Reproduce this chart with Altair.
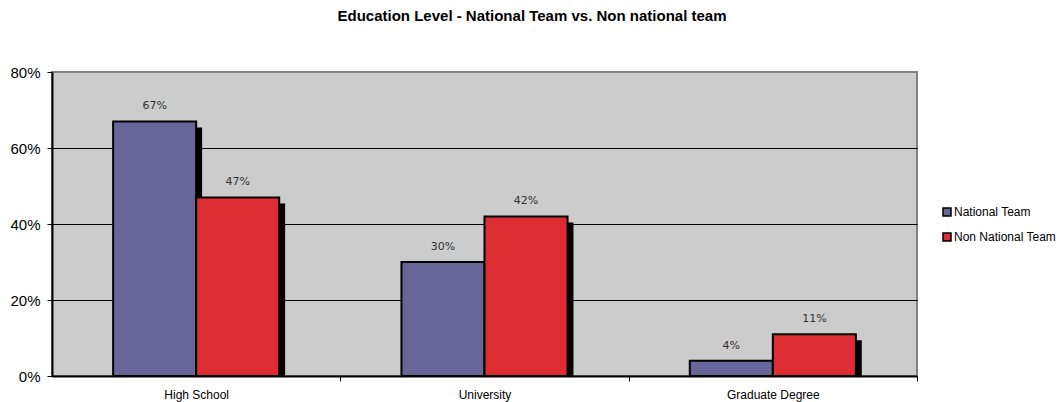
import altair as alt
import pandas as pd

categories = ["High School", "University", "Graduate Degree"]
series = ["National Team", "Non National Team"]
national = [67, 30, 4]
non_national = [47, 42, 11]
colors = ["#666699", "#DD2D32"]
title_text = "Education Level - National Team vs. Non national team"

rows = []
for c, a, b in zip(categories, national, non_national):
    rows.append({"cat": c, "series": series[0], "value": a, "label": f"{a}%"})
    rows.append({"cat": c, "series": series[1], "value": b, "label": f"{b}%"})
df = pd.DataFrame(rows)

xenc = alt.X("cat:N", sort=categories,
             scale=alt.Scale(paddingInner=0.424, paddingOuter=0.212),
             axis=alt.Axis(title=None, labelAngle=0, tickOffset=144, labelOffset=-144,
                           labelFont="Liberation Sans", labelFontSize=12,
                           labelColor="black", domainColor="black", domainWidth=2,
                           tickColor="black", tickSize=5, labelPadding=8))
xoff = alt.XOffset("series:N", sort=series,
                   scale=alt.Scale(type="band", paddingInner=0, paddingOuter=0))
xoff_shadow = alt.XOffset("series:N", sort=series,
                          scale=alt.Scale(type="band", paddingInner=0, paddingOuter=0,
                                          range=[6, 172]))
yenc = alt.Y("value:Q", scale=alt.Scale(domain=[0, 80], nice=False),
             axis=alt.Axis(title=None, values=[0, 20, 40, 60, 80],
                           labelExpr="datum.value + '%'",
                           labelFont="Liberation Sans", labelFontSize=15,
                           labelColor="black", domainColor="black", domainWidth=2,
                           tickColor="black", tickSize=5, labelPadding=7,
                           grid=True, gridWidth=1,
                           gridColor=alt.condition("datum.value == 80",
                                                   alt.value("#808080"),
                                                   alt.value("black"))))

base = alt.Chart(df)

shadow = base.mark_bar(color="black", yOffset=6, clip=True).encode(
    x=xenc, xOffset=xoff_shadow, y=yenc)

bars = base.mark_bar(stroke="black", strokeWidth=2).encode(
    x=xenc, xOffset=xoff, y=yenc,
    color=alt.Color("series:N", sort=series,
                    scale=alt.Scale(domain=series, range=colors),
                    legend=alt.Legend(title=None, orient="none", legendX=889, legendY=134,
                                      symbolType="square", symbolSize=64,
                                      symbolStrokeColor="black", symbolStrokeWidth=1.5,
                                      labelFont="Liberation Sans", labelFontSize=12,
                                      labelColor="black", rowPadding=11, labelOffset=1)))

labels = base.mark_text(dy=-15, font="DejaVu Sans", fontSize=11, color="#333333").encode(
    x=xenc, xOffset=xoff, y=yenc, text="label:N")

title = alt.Chart(pd.DataFrame({"t": [title_text]})).mark_text(
    font="Liberation Sans", fontSize=15, fontWeight="bold", color="black").encode(
    x=alt.value(480), y=alt.value(-56), text="t:N")

chart = alt.layer(shadow, bars, labels, title).resolve_scale(
    xOffset="independent"
).properties(
    width=865, height=304,
    background="white",
    autosize=alt.AutoSizeParams(type="none"),
    padding={"left": 52, "top": 72, "right": 147, "bottom": 26},
).configure_view(stroke="#808080", strokeWidth=2, fill="#CCCCCC")

chart.save("out.html", embed_options={"renderer": "svg", "actions": False})
